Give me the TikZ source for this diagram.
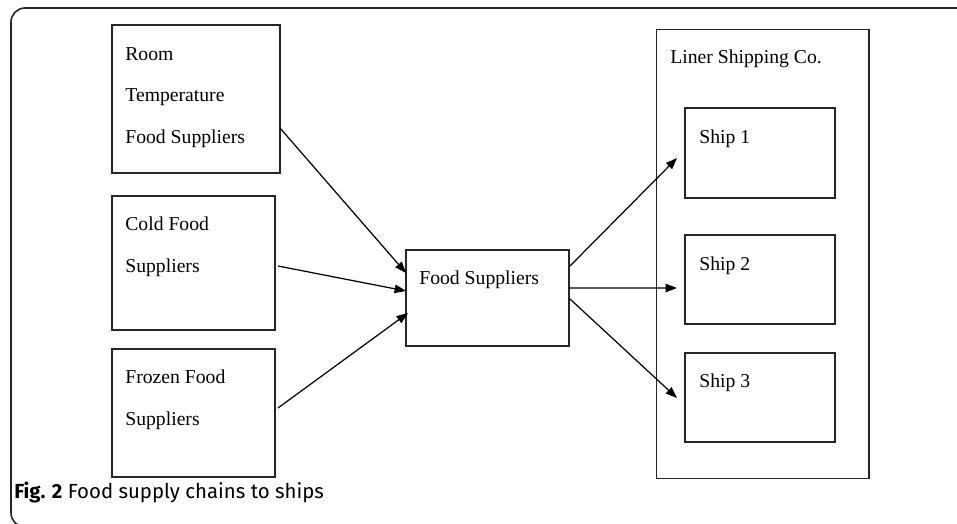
\documentclass[tikz,border=0pt]{standalone}
\usepackage{fontspec}
\setmainfont{Liberation Serif}
\newfontfamily\capfont{Fira Sans}
\usetikzlibrary{arrows.meta,calc}

\begin{document}
\begin{tikzpicture}[x=0.02cm,y=-0.02cm]
\tikzstyle{box}=[draw=black!85, line width=0.6pt, inner sep=0pt, outer sep=0pt]
\tikzstyle{txt}=[inner sep=0pt, anchor=base west, align=left, font=\fontsize{11.2}{23.5}\selectfont]
\tikzstyle{link}=[black, line width=0.7pt, -{Triangle[length=6.5pt,width=4.8pt]}]
\useasboundingbox (0,0) rectangle (957,524);
\clip (0,0) rectangle (957,524);
\draw [black!85, line width=0.9pt, rounded corners=8pt] (970,8) -- (11,8) -- (11,527) -- (100,527);

\node [box, minimum width=3.36cm, minimum height=2.96cm] (room) at (196,99) {};
\node [box, minimum width=3.26cm, minimum height=2.68cm] (cold) at (193.5,263) {};
\node [box, minimum width=3.26cm, minimum height=2.56cm] (frozen) at (193.5,413) {};
\node [box, minimum width=3.26cm, minimum height=1.92cm] (food) at (487.5,298) {};
\node [box, minimum width=4.26cm, minimum height=9cm] (liner) at (762.5,254) {};
\node [box, minimum width=3cm, minimum height=1.8cm] (ship1) at (760,153) {};
\node [box, minimum width=3cm, minimum height=1.78cm] (ship2) at (760,279.5) {};
\node [box, minimum width=3cm, minimum height=1.78cm] (ship3) at (760,397.5) {};

\node [txt] (roomtxt) at (125,143) {Room\\Temperature\\Food Suppliers};
\node [txt] (coldtxt) at (125,272) {Cold Food\\Suppliers};
\node [txt] (frozentxt) at (125,425) {Frozen Food\\Suppliers};
\node [txt] (foodtxt) at (419,284) {Food Suppliers};
\node [txt] (linertxt) at (670,63) {Liner Shipping Co.};
\node [txt] (ship1txt) at (699,143) {Ship 1};
\node [txt] (ship2txt) at (699,270) {Ship 2};
\node [txt] (ship3txt) at (699,387) {Ship 3};

\draw [link] ($(room.south east)+(0,-45)$) -- ($(food.north west)+(0,23)$);
\draw [link] ($(cold.east)+(3,3)$) -- ($(food.west)+(0,-7)$);
\draw [link] ($(frozen.east)+(3,-5)$) -- ($(food.west)+(2,15)$);
\draw [link] ($(food.east)+(1,-32)$) -- ($(ship1.west)+(-8,5)$);
\draw [link] ($(food.east)+(0,-10)$) -- ($(ship2.west)+(-8,8.5)$);
\draw [link] ($(food.east)+(1,1)$) -- ($(ship3.west)+(-8,0.5)$);

\node [inner sep=0pt, anchor=base west, font=\capfont\fontsize{11.6}{14}\selectfont] (caption) at (14,498) {\textbf{Fig. 2} Food supply chains to ships};
\end{tikzpicture}
\end{document}
